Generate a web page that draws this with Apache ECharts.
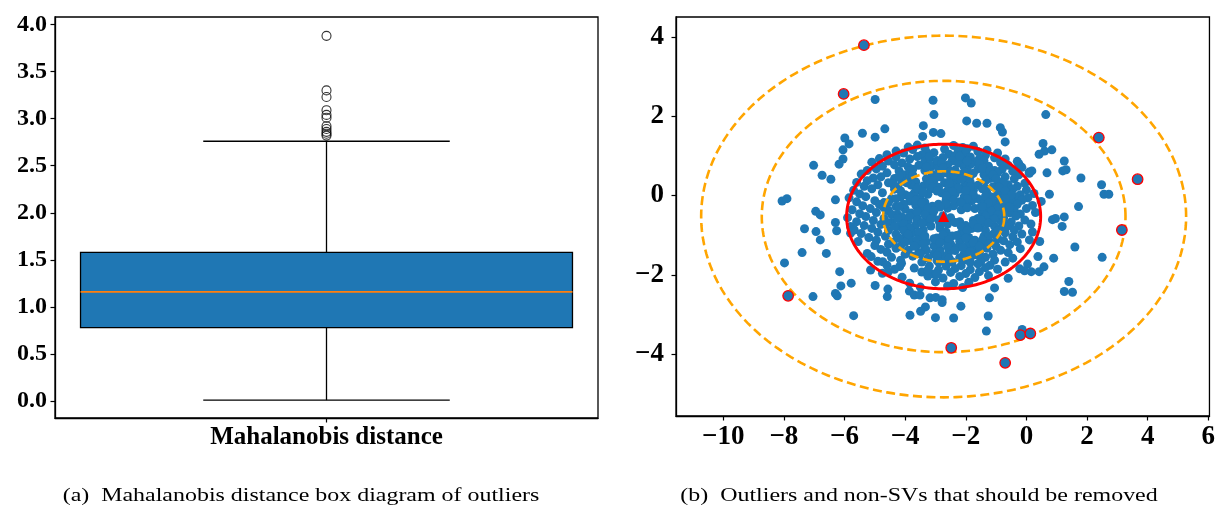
<!DOCTYPE html>
<html><head><meta charset="utf-8">
<script src="https://cdn.jsdelivr.net/npm/echarts@6/dist/echarts.min.js"></script>
<style>html,body{margin:0;padding:0;background:#fff}#c{width:1218px;height:507px}</style>
</head><body><div id="c"></div>
<script>
// ---------- data ----------
const boxCategory = ['Mahalanobis distance'];
const boxStats = [0.01, 0.78, 1.16, 1.58, 2.76]; // min, q1, median, q3, max
const boxOutliers = [3.88, 3.30, 3.23, 3.09, 3.04, 3.01, 2.92, 2.89, 2.86, 2.84, 2.82];
const leftTicks = [0, 0.5, 1.0, 1.5, 2.0, 2.5, 3.0, 3.5, 4.0];
const xTicks = [-10, -8, -6, -4, -2, 0, 2, 4, 6];
const yTicks = [-4, -2, 0, 2, 4];
const ellipseCenter = [-2.73, -0.53];
const dashedRadiiX = [2.0, 6.0, 8.0];
const solidRadiiX = [3.2];
const ellipseAspect = 0.57;
const captions = ['(a)  Mahalanobis distance box diagram of outliers', '(b)  Outliers and non-SVs that should be removed'];

const removedPoints = [[-5.36,3.79],[-6.03,2.56],[2.39,1.46],[3.67,0.41],[3.15,-0.87],[-7.86,-2.53],[-0.20,-3.52],[0.13,-3.48],[-2.48,-3.84],[-0.70,-4.22]];

const outerPoints = [[-4.99,2.42],[-3.08,2.40],[-2.01,2.46],[-1.82,2.33],[-3.05,2.04],[0.64,2.04],[-1.97,1.88],[-1.64,1.82],[-1.30,1.82],[-3.40,1.76],[-4.67,1.68],[-5.41,1.57],[-4.99,1.47],[-5.99,1.45],[-5.85,1.30],[-6.05,1.15],[-6.05,0.92],[-6.18,0.79],[-7.02,0.76],[-6.74,0.51],[-6.45,0.41],[-3.07,1.59],[-3.42,1.49],[-2.82,1.56],[-0.86,1.71],[-0.79,1.60],[-0.70,1.35],[0.55,1.31],[0.60,1.12],[0.84,1.15],[0.42,1.04],[1.25,0.87],[1.20,0.62],[1.31,0.65],[1.80,0.44],[0.68,0.57],[0.18,0.62],[0.09,0.59],[-0.25,0.80],[2.48,0.27],[2.56,0.03],[2.72,0.03],[0.76,0.03],[0.49,-0.15],[1.72,-0.28],[0.86,-0.61],[0.96,-0.58],[1.25,-0.54],[1.18,-0.78],[1.60,-1.30],[2.50,-1.56],[0.90,-1.58],[0.44,-1.16],[0.38,-1.54],[0.58,-1.80],[0.42,-1.92],[1.40,-2.17],[1.25,-2.42],[1.52,-2.44],[0.04,-1.73],[0.16,-1.92],[-0.06,-1.90],[-0.22,-1.85],[-0.60,-2.09],[-1.05,-2.33],[-1.22,-2.58],[-1.26,-3.04],[-1.32,-3.42],[-0.14,-3.38],[-2.40,-3.09],[-2.16,-2.79],[-2.78,-2.63],[-2.78,-2.70],[-3.18,-2.58],[-2.99,-2.57],[-3.33,-2.81],[-3.49,-2.92],[-3.84,-3.02],[-3.00,-3.08],[-3.86,-2.41],[-3.70,-2.51],[-3.51,-2.51],[-4.59,-2.55],[-4.57,-2.36],[-4.99,-2.27],[-5.70,-3.03],[-5.78,-2.21],[-6.12,-2.28],[-6.30,-2.47],[-6.24,-2.53],[-7.04,-2.55],[-7.98,-1.70],[-7.40,-1.44],[-7.32,-0.84],[-6.94,-0.91],[-6.80,-1.12],[-6.60,-1.46],[-6.95,-0.40],[-6.80,-0.49],[-6.30,-0.68],[-6.26,-0.89],[-8.06,-0.14],[-7.90,-0.08],[-6.30,-0.11],[-6.16,-1.92],[-5.12,-1.54],[-5.14,-1.88],[-4.74,-1.67],[-4.56,-1.93],[-4.12,-1.71],[-4.18,-1.79],[-5.80,-0.95],[-5.68,-0.87],[-5.80,-0.78]];

const corePoints = [[-3.9,1.22],[-3.6,1.27],[-3.35,1.2],[-2.4,1.26],[-2.1,1.21],[-1.75,1.24],
[-4.3,1.12],[-3.75,1.16],[-3.3,1.1],[-2.7,1.17],[-2.25,1.13],[-1.95,1.18],[-1.6,1.11],[-1.3,1.14],
[-4.6,1.03],[-4.05,1.07],[-3.45,1.02],[-3.05,1.08],[-2.55,1.04],[-2.35,1.0],[-2.0,1.06],[-1.35,1.02],[-0.95,1.07],
[-4.85,0.93],[-4.3,0.97],[-3.85,0.92],[-3.6,0.98],[-3.2,0.94],[-2.75,0.96],[-2.15,0.91],[-1.85,0.97],[-1.55,0.93],[-1.05,0.95],[-0.7,0.92],
[-5.1,0.84],[-4.55,0.87],[-4.1,0.82],[-3.35,0.86],[-2.95,0.83],[-2.45,0.87],[-2.25,0.81],[-1.7,0.85],[-1.4,0.88],[-0.85,0.83],[-0.3,0.86],
[-4.75,0.74],[-4.35,0.77],[-3.9,0.72],[-3.55,0.76],[-3.15,0.73],[-2.6,0.77],[-2.05,0.72],[-1.85,0.78],[-1.25,0.74],[-0.6,0.76],[-0.15,0.71],
[-5.25,0.63],[-4.95,0.67],[-4.2,0.62],[-3.75,0.66],[-3.35,0.63],[-2.9,0.68],[-2.35,0.64],[-1.95,0.62],[-1.6,0.67],[-1.05,0.63],[-0.8,0.66],[-0.45,0.61],
[-5.45,0.54],[-4.6,0.57],[-4.05,0.52],[-3.1,0.53],[-2.65,0.57],[-2.2,0.52],[-1.75,0.56],[-1.4,0.53],[-0.95,0.57],[-0.25,0.52],[0.1,0.56],
[-5.05,0.44],[-4.8,0.47],[-4.35,0.43],[-3.85,0.46],[-3.3,0.42],[-2.85,0.47],[-2.5,0.44],[-2.0,0.41],[-1.2,0.43],[-0.7,0.47],[-0.4,0.42],
[-5.6,0.33],[-5.25,0.37],[-4.55,0.32],[-4.1,0.36],[-3.65,0.34],[-3.05,0.37],[-2.7,0.32],[-2.3,0.36],[-1.85,0.33],[-1.35,0.37],[-0.9,0.34],[-0.05,0.31],
[-5.35,0.23],[-4.9,0.27],[-4.25,0.22],[-3.8,0.26],[-3.4,0.24],[-2.9,0.21],[-2.45,0.27],[-2.05,0.23],[-1.6,0.26],[-1.1,0.22],[-0.6,0.27],[-0.3,0.23],
[-5.7,0.13],[-5.1,0.17],[-4.35,0.16],[-3.55,0.14],[-3.15,0.17],[-2.6,0.12],[-2.2,0.16],[-1.75,0.13],[-1.45,0.17],[-0.85,0.12],[-0.45,0.16],[0.0,0.14],
[-5.5,0.04],[-4.75,0.07],[-4.0,0.02],[-3.7,0.06],[-3.25,0.03],[-2.8,0.07],[-2.35,0.04],[-1.9,0.01],[-1.3,0.06],[-0.95,0.03],[-0.65,0.07],[-0.2,0.02],[0.25,0.05],
[-5.85,-0.06],[-5.3,-0.03],[-4.45,-0.08],[-4.15,-0.04],[-3.5,-0.07],[-2.5,-0.06],[-2.05,-0.03],[-1.6,-0.08],[-1.15,-0.04],[-0.75,-0.07],[-0.35,-0.03],[0.05,-0.06],
[-5.6,-0.16],[-5.0,-0.13],[-4.7,-0.18],[-3.85,-0.14],[-3.35,-0.17],[-2.65,-0.12],[-2.2,-0.16],[-1.8,-0.13],[-1.4,-0.18],[-0.9,-0.14],[-0.5,-0.17],[-0.15,-0.12],
[-5.4,-0.26],[-4.85,-0.23],[-4.3,-0.28],[-3.65,-0.24],[-3.1,-0.27],[-2.9,-0.22],[-2.4,-0.26],[-1.95,-0.23],[-1.5,-0.28],[-1.05,-0.24],[-0.65,-0.27],[-0.3,-0.22],[0.2,-0.25],
[-5.75,-0.36],[-5.15,-0.33],[-4.55,-0.38],[-4.0,-0.34],[-3.45,-0.37],[-2.6,-0.32],[-2.15,-0.36],[-1.7,-0.33],[-1.25,-0.38],[-0.8,-0.34],[-0.4,-0.37],[0.0,-0.33],
[-5.5,-0.46],[-4.95,-0.43],[-4.25,-0.48],[-3.8,-0.44],[-3.25,-0.47],[-1.45,-0.43],[-0.95,-0.48],[-0.55,-0.44],[-0.2,-0.47],[0.3,-0.43],
[-5.9,-0.56],[-5.3,-0.53],[-4.7,-0.58],[-4.1,-0.54],[-3.6,-0.57],[-3.1,-0.52],[-2.5,-0.56],[-1.6,-0.58],[-1.15,-0.54],[-0.75,-0.57],[-0.35,-0.52],
[-5.6,-0.66],[-5.05,-0.63],[-4.45,-0.68],[-3.9,-0.64],[-3.35,-0.67],[-2.9,-0.62],[-2.2,-0.66],[-1.75,-0.63],[-1.3,-0.68],[-0.85,-0.64],[-0.5,-0.67],[-0.05,-0.62],
[-5.35,-0.76],[-4.8,-0.73],[-4.2,-0.78],[-3.65,-0.74],[-3.15,-0.77],[-2.6,-0.72],[-2.0,-0.76],[-1.5,-0.73],[-1.05,-0.78],[-0.6,-0.74],[-0.25,-0.77],[0.15,-0.72],
[-5.7,-0.86],[-5.1,-0.83],[-4.55,-0.88],[-3.95,-0.84],[-3.4,-0.87],[-2.85,-0.82],[-1.8,-0.83],[-1.35,-0.88],[-0.9,-0.84],[-0.4,-0.87],
[-5.45,-0.96],[-4.9,-0.93],[-4.3,-0.98],[-3.75,-0.94],[-2.65,-0.92],[-2.15,-0.96],[-1.1,-0.98],[-0.7,-0.94],[-0.15,-0.97],[0.2,-0.92],
[-5.2,-1.06],[-4.65,-1.03],[-4.05,-1.08],[-3.5,-1.04],[-2.95,-1.07],[-2.45,-1.02],[-1.9,-1.06],[-1.4,-1.03],[-0.95,-1.08],[-0.45,-1.04],
[-5.55,-1.16],[-4.95,-1.13],[-4.4,-1.18],[-3.8,-1.14],[-3.3,-1.17],[-2.75,-1.12],[-2.2,-1.16],[-1.7,-1.13],[-1.2,-1.18],[-0.75,-1.14],[-0.3,-1.17],[0.1,-1.12],
[-5.0,-1.26],[-4.55,-1.23],[-4.15,-1.28],[-3.6,-1.24],[-3.05,-1.27],[-2.5,-1.22],[-1.95,-1.26],[-1.5,-1.23],[-1.0,-1.28],[-0.55,-1.24],
[-4.8,-1.36],[-4.3,-1.33],[-3.9,-1.38],[-3.35,-1.34],[-2.85,-1.37],[-2.3,-1.32],[-1.75,-1.36],[-1.3,-1.33],[-0.85,-1.38],[-0.2,-1.34],
[-5.25,-1.46],[-4.6,-1.43],[-4.0,-1.48],[-3.55,-1.44],[-3.05,-1.47],[-2.55,-1.42],[-2.05,-1.46],[-1.55,-1.43],[-1.1,-1.48],[-0.6,-1.44],
[-4.45,-1.56],[-3.75,-1.53],[-3.25,-1.58],[-2.7,-1.54],[-2.2,-1.57],[-1.8,-1.52],[-1.35,-1.56],[-0.45,-1.58],
[-4.9,-1.66],[-4.15,-1.63],[-3.45,-1.68],[-2.95,-1.64],[-2.45,-1.67],[-1.95,-1.62],[-1.5,-1.66],[-1.05,-1.63],[-0.7,-1.68],
[-4.6,-1.76],[-3.2,-1.78],[-2.65,-1.74],[-2.15,-1.77],[-1.6,-1.72],[-1.2,-1.76],
[-4.35,-1.86],[-3.7,-1.83],[-2.9,-1.88],[-2.35,-1.84],[-1.85,-1.87],[-1.35,-1.82],[-0.95,-1.86],
[-4.75,-1.96],[-3.45,-1.93],[-3.05,-1.98],[-2.5,-1.94],[-2.0,-1.97],[-1.55,-1.92],
[-4.1,-2.06],[-3.25,-2.03],[-2.75,-2.08],[-2.2,-2.04],[-1.7,-2.07],[-1.25,-2.02],
[-3.85,-2.21],[-3.0,-2.18],[-2.4,-2.22],[-1.9,-2.19],
[-3.5,-2.31],[-2.6,-2.28],[-2.1,-2.32]];

const denseCorePoints = [[-3.2,0.98],[-2.2,0.99],
[-2.95,0.88],[-1.95,0.87],
[-3.2,0.78],[-2.8,0.81],[-1.55,0.8],
[-3.3,0.72],[-2.75,0.69],[-1.45,0.68],
[-3.85,0.62],[-2.5,0.61],[-2.05,0.59],[-1.2,0.62],
[-4.2,0.49],[-3.75,0.52],[-2.95,0.48],[-2.4,0.51],[-1.85,0.49],[-1.1,0.52],
[-3.1,0.38],[-2.15,0.41],[-1.0,0.42],
[-4.4,0.29],[-3.95,0.32],[-3.2,0.28],[-2.55,0.31],[-0.75,0.32],
[-3.6,0.18],[-3.1,0.21],[-2.25,0.19],[-1.85,0.22],[-1.35,0.18],[-0.9,0.21],
[-4.15,0.12],[-3.4,0.08],[-2.95,0.11],[-2.45,0.09],[-2.0,0.12],[-0.7,0.11],
[-3.85,-0.02],[-2.65,-0.01],[-1.75,0.02],[-1.35,-0.02],[-0.5,0.01],
[-4.3,-0.08],[-3.65,-0.12],[-2.4,-0.11],[-1.95,-0.08],[-1.15,-0.12],[-0.7,-0.09],
[-4.55,-0.18],[-4.05,-0.22],[-3.45,-0.19],[-2.65,-0.21],[-2.15,-0.18],[-1.25,-0.19],[-0.85,-0.21],
[-4.7,-0.31],[-4.2,-0.28],[-3.25,-0.32],[-2.85,-0.29],[-1.95,-0.31],[-1.45,-0.28],[-0.95,-0.32],[-0.55,-0.29],
[-4.6,-0.38],[-3.6,-0.42],[-3.05,-0.39],[-1.15,-0.39],[-0.75,-0.41],
[-4.45,-0.48],[-3.85,-0.52],[-3.35,-0.49],[-2.75,-0.51],[-1.35,-0.52],[-0.95,-0.49],
[-4.25,-0.58],[-3.6,-0.62],[-3.15,-0.59],[-2.65,-0.61],[-1.5,-0.62],[-1.05,-0.59],
[-4.6,-0.68],[-4.05,-0.72],[-3.45,-0.69],[-2.85,-0.71],[-2.35,-0.68],[-1.75,-0.72],[-1.25,-0.69],[-0.75,-0.71],
[-4.35,-0.78],[-3.85,-0.82],[-2.15,-0.78],[-1.6,-0.82],[-0.65,-0.79],
[-4.05,-0.88],[-3.55,-0.92],[-1.95,-0.88],[-0.95,-0.89],
[-3.9,-0.98],[-3.35,-1.02],[-2.75,-0.99],[-2.3,-1.01],[-1.25,-1.02],
[-4.2,-1.08],[-3.6,-1.12],[-3.05,-1.09],[-2.55,-1.11],[-2.0,-1.08],[-1.45,-1.12],[-0.95,-1.09],
[-4.0,-1.18],[-3.4,-1.22],[-2.85,-1.19],[-1.75,-1.18],[-1.25,-1.22],
[-3.7,-1.28],[-2.6,-1.29],[-2.1,-1.31],[-1.55,-1.28],
[-3.3,-1.38],[-2.85,-1.42],[-2.35,-1.39],[-1.85,-1.41],
[-3.5,-1.48],[-2.95,-1.52],[-1.6,-1.51],
[-2.55,-1.58],[-2.05,-1.62],
[-2.9,-1.68],[-1.85,-1.69],
[-2.65,-1.78],
[-3.25,-1.88],
[-2.95,-1.98]];

// ---------- chart ----------
const chart = echarts.init(document.getElementById('c'), null, {renderer: 'canvas'});
const serif = '"Liberation Serif", "Times New Roman", serif';
const minusFmt = v => (v < 0 ? '\u2212' + Math.abs(v) : String(v));

function axisBase(fontSize) {
  return {
    axisLine: {show: true, onZero: false, lineStyle: {color: '#000', width: 1.3}},
    axisTick: {show: true, inside: false, length: 4.5, lineStyle: {color: '#000', width: 1.2}},
    splitLine: {show: false},
    axisLabel: {color: '#000', fontFamily: serif, fontWeight: 'bold', fontSize: fontSize}
  };
}

function ellipseItem(stroke, dash, width) {
  return function (params, api) {
    const cx = api.value(0), cy = api.value(1), a = api.value(2), b = api.value(3);
    const pts = [];
    for (let i = 0; i <= 240; i++) {
      const t = i / 240 * 2 * Math.PI;
      pts.push(api.coord([cx + a * Math.cos(t), cy + b * Math.sin(t)]));
    }
    return {type: 'polyline', shape: {points: pts},
      style: {fill: null, stroke: stroke, lineWidth: width, lineDash: dash}};
  };
}

const leftX = axisBase(25);
Object.assign(leftX, {type: 'category', gridIndex: 0, data: boxCategory, boundaryGap: true});
leftX.axisTick.alignWithLabel = true;
leftX.axisLabel.margin = 7;

const leftY = axisBase(24);
Object.assign(leftY, {type: 'value', gridIndex: 0, min: -0.18, max: 4.08});
leftY.axisTick.customValues = leftTicks;
leftY.axisLabel.customValues = leftTicks;
leftY.axisLabel.formatter = v => v.toFixed(1);
leftY.axisLabel.margin = 8;

const rightX = axisBase(27);
Object.assign(rightX, {type: 'value', gridIndex: 1, min: -11.56, max: 6.04});
rightX.axisTick.customValues = xTicks;
rightX.axisLabel.customValues = xTicks;
rightX.axisLabel.formatter = minusFmt;
rightX.axisLabel.margin = 8;

const rightY = axisBase(27);
Object.assign(rightY, {type: 'value', gridIndex: 1, min: -5.56, max: 4.5});
rightY.axisTick.customValues = yTicks;
rightY.axisLabel.customValues = yTicks;
rightY.axisLabel.formatter = minusFmt;
rightY.axisLabel.margin = 12;

const option = {
  animation: false,
  backgroundColor: '#fff',
  grid: [
    {left: 55, top: 17, width: 543, height: 401, show: true, borderColor: '#000', borderWidth: 1.3, containLabel: false},
    {left: 676, top: 17, width: 536, height: 399, show: true, borderColor: '#000', borderWidth: 1.3, containLabel: false}
  ],
  xAxis: [leftX, rightX],
  yAxis: [leftY, rightY],
  graphic: [
    {type: 'text', x: 301, y: 496, scaleX: 1.26, style: {text: captions[0], fill: '#000', font: '19px ' + serif, textAlign: 'center', textVerticalAlign: 'middle'}},
    {type: 'text', x: 919, y: 496, scaleX: 1.26, style: {text: captions[1], fill: '#000', font: '19px ' + serif, textAlign: 'center', textVerticalAlign: 'middle'}}
  ],
  series: [
    {
      type: 'custom', xAxisIndex: 0, yAxisIndex: 0,
      data: [[0].concat(boxStats)],
      encode: {x: 0, y: [1, 2, 3, 4, 5]},
      renderItem: function (params, api) {
        const band = api.size([1, 0])[0];
        const cx = api.coord([api.value(0), api.value(3)])[0];
        const yMin = api.coord([0, api.value(1)])[1];
        const yQ1 = api.coord([0, api.value(2)])[1];
        const yMed = api.coord([0, api.value(3)])[1];
        const yQ3 = api.coord([0, api.value(4)])[1];
        const yMax = api.coord([0, api.value(5)])[1];
        const bw = band * 0.453, cw = band * 0.227;
        const ls = {stroke: '#000', lineWidth: 1.3};
        return {type: 'group', children: [
          {type: 'line', shape: {x1: cx, y1: yQ3, x2: cx, y2: yMax}, style: ls},
          {type: 'line', shape: {x1: cx, y1: yQ1, x2: cx, y2: yMin}, style: ls},
          {type: 'line', shape: {x1: cx - cw, y1: yMax, x2: cx + cw, y2: yMax}, style: ls},
          {type: 'line', shape: {x1: cx - cw, y1: yMin, x2: cx + cw, y2: yMin}, style: ls},
          {type: 'rect', shape: {x: cx - bw, y: yQ3, width: 2 * bw, height: yQ1 - yQ3}, style: {fill: '#1f77b4', stroke: '#000', lineWidth: 1.3}},
          {type: 'line', shape: {x1: cx - bw, y1: yMed, x2: cx + bw, y2: yMed}, style: {stroke: '#ff7f0e', lineWidth: 1.8}}
        ]};
      }
    },
    {
      type: 'scatter', xAxisIndex: 0, yAxisIndex: 0,
      data: boxOutliers.map(v => [0, v]),
      symbol: 'circle', symbolSize: 9,
      itemStyle: {color: 'rgba(0,0,0,0)', borderColor: '#000', borderWidth: 1.1}
    },
    {
      type: 'scatter', xAxisIndex: 1, yAxisIndex: 1, z: 2,
      data: outerPoints.concat(corePoints, denseCorePoints),
      symbolSize: 9, itemStyle: {color: '#1f77b4', opacity: 1}
    },
    {
      type: 'custom', xAxisIndex: 1, yAxisIndex: 1, z: 3,
      data: dashedRadiiX.map(r => [ellipseCenter[0], ellipseCenter[1], r, r * ellipseAspect]),
      encode: {x: 0, y: 1},
      renderItem: ellipseItem('#FFA500', [9, 4.5], 2.6)
    },
    {
      type: 'custom', xAxisIndex: 1, yAxisIndex: 1, z: 3,
      data: solidRadiiX.map(r => [ellipseCenter[0], ellipseCenter[1], r, r * ellipseAspect]),
      encode: {x: 0, y: 1},
      renderItem: ellipseItem('#FF0000', null, 3)
    },
    {
      type: 'scatter', xAxisIndex: 1, yAxisIndex: 1, z: 4,
      data: removedPoints,
      symbolSize: 10.5, itemStyle: {color: '#1f77b4', borderColor: '#FF0000', borderWidth: 1.3, opacity: 1}
    },
    {
      type: 'scatter', xAxisIndex: 1, yAxisIndex: 1, z: 5,
      data: [ellipseCenter],
      symbol: 'triangle', symbolSize: 11, itemStyle: {color: '#FF0000', opacity: 1}
    }
  ]
};
chart.setOption(option);
</script>
</body></html>
